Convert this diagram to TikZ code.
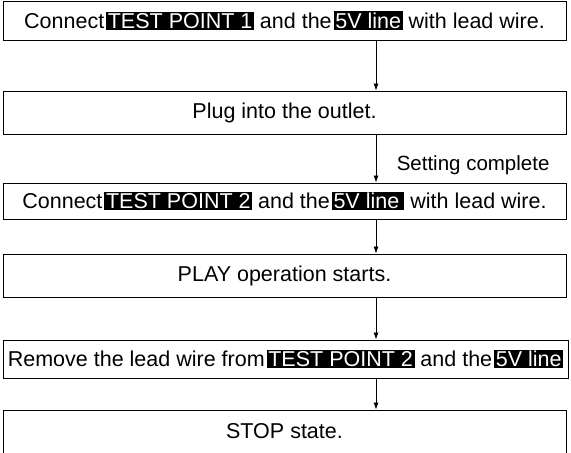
\documentclass[tikz,border=0pt]{standalone}
\usepackage{fontspec}
\setmainfont{Liberation Sans}
\usetikzlibrary{positioning,arrows.meta}

\newcommand{\hilite}[1]{\hspace{2pt}{\setlength{\fboxsep}{1.6pt}\colorbox{black}{\textcolor{white}{#1}}}}

\tikzset{
  stepbox/.style={draw, line width=0.9pt, minimum width=563pt, inner sep=0pt,
    font=\fontsize{21.5}{24}\selectfont},
  flow/.style={-{Latex[length=7pt,width=5pt]}, line width=0.8pt}
}

\begin{document}
\begin{tikzpicture}
    \useasboundingbox (0,0) rectangle (571pt,-453pt);

    % the six steps
    \node[stepbox, minimum height=39pt] (plugin) at (284.5pt,-20.5pt)
        {Connect\hilite{TEST POINT 1} and the\hilite{5V line} with lead wire.};
    \node[stepbox, minimum height=43pt] (outlet) at (284.5pt,-112.5pt)
        {Plug into the outlet.};
    \node[stepbox, minimum height=36pt] (tptwo) at (284.5pt,-201pt)
        {Connect\hilite{TEST POINT 2} and the\hilite{5V line\,} with lead wire.};
    \node[stepbox, minimum height=43pt] (play) at (284.5pt,-275.5pt)
        {PLAY operation starts.};
    \node[stepbox, minimum height=38pt, minimum width=565pt] (remove) at (285.5pt,-359pt)
        {Remove the lead wire from\hilite{TEST POINT 2} and the\hilite{5V line}};
    \node[stepbox, minimum height=43pt] (stop) at (284.5pt,-431.5pt)
        {STOP state.};

    \node[font=\fontsize{20.5}{24}\selectfont, anchor=east] (setok) at (553pt,-165pt)
        {Setting complete};

    % arrows run down at one x
    \coordinate (ax) at (376pt,0);
    \draw[flow] (plugin.south -| ax) -- (outlet.north -| ax);
    \draw[flow] (outlet.south -| ax) -- (tptwo.north -| ax);
    \draw[flow] (tptwo.south -| ax) -- (play.north -| ax);
    \draw[flow] (play.south -| ax) -- (remove.north -| ax);
    \draw[flow] (remove.south -| ax) -- (stop.north -| ax);
\end{tikzpicture}
\end{document}
